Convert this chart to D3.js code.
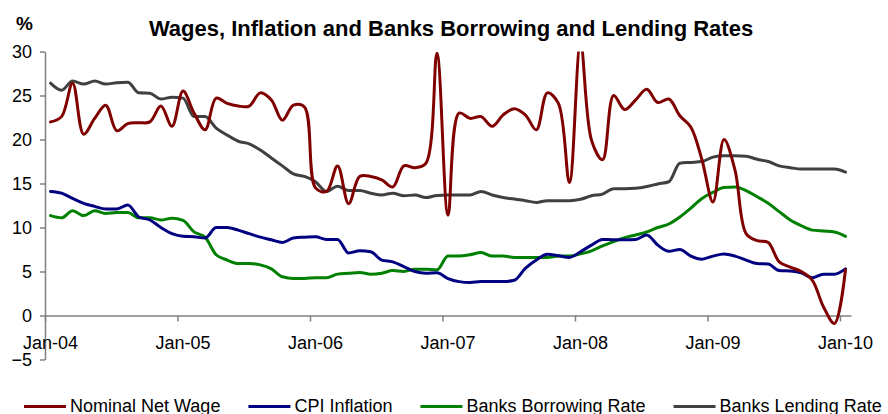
<!DOCTYPE html>
<html>
<head>
<meta charset="utf-8">
<script src="https://cdn.jsdelivr.net/npm/d3@7"></script>
<style>
  html, body { margin: 0; padding: 0; background: #fff; }
  svg { display: block; font-family: "Liberation Sans", Arial, sans-serif; }
</style>
</head>
<body>
<svg id="chart" width="888" height="414"></svg>
<script>
// Monthly series, Jan-2004 .. Jan-2010 (73 months), in percent
const months = d3.timeMonth.range(new Date(2004, 0, 1), new Date(2010, 1, 1));

const nominalNetWage = [
  22.0, 22.6, 26.4, 20.6, 22.4, 23.9, 21.0, 21.8, 21.9, 22.0, 23.8, 21.5,
  25.5, 23.0, 21.1, 24.7, 24.1, 23.8, 23.8, 25.3, 24.5, 22.2, 23.9, 23.7,
  14.5, 14.1, 17.0, 12.7, 15.8, 15.8, 15.4, 14.6, 17.0, 16.8, 17.3, 29.8,
  11.4, 23.0, 22.4, 22.6, 21.5, 22.8, 23.5, 22.8, 21.1, 25.3, 24.1, 15.1,
  31.0, 19.9, 17.7, 25.0, 23.4, 24.5, 25.7, 24.2, 24.6, 22.7, 21.4, 17.7,
  12.9, 20.0, 16.5, 9.3, 8.5, 8.3, 6.1, 5.5, 5.0, 4.0, 1.0, -0.9,
  5.2
];

const cpiInflation = [
  14.1, 13.9, 13.3, 12.75, 12.4, 12.1, 12.1, 12.55, 11.2, 10.85, 10.0, 9.3,
  9.0, 8.95, 8.8, 10.0, 10.0, 9.7, 9.3, 8.9, 8.6, 8.3, 8.8, 8.9,
  8.95, 8.65, 8.65, 7.1, 7.35, 7.25, 6.3, 6.1, 5.55, 5.0, 4.8, 4.85,
  4.2, 3.85, 3.75, 3.85, 3.85, 3.85, 4.0, 5.35, 6.3, 6.95, 6.8, 6.6,
  7.25, 8.0, 8.65, 8.6, 8.6, 8.65, 9.15, 8.0, 7.3, 7.5, 6.75, 6.4,
  6.75, 7.0, 6.75, 6.3, 5.9, 5.85, 5.1, 5.05, 4.85, 4.3, 4.7, 4.7,
  5.3
];

const banksBorrowingRate = [
  11.35, 11.1, 11.9, 11.35, 11.9, 11.6, 11.7, 11.7, 11.1, 11.1, 10.85, 11.05,
  10.8, 9.5, 8.9, 6.9, 6.3, 5.9, 5.9, 5.75, 5.3, 4.4, 4.2, 4.2,
  4.3, 4.3, 4.7, 4.8, 4.9, 4.7, 4.8, 5.1, 5.0, 5.25, 5.25, 5.2,
  6.75, 6.75, 6.9, 7.15, 6.75, 6.75, 6.6, 6.6, 6.6, 6.6, 6.75, 6.75,
  7.0, 7.35, 7.9, 8.4, 8.85, 9.15, 9.5, 10.0, 10.4, 11.2, 12.2, 13.3,
  14.0, 14.55, 14.6, 14.2, 13.5, 12.75, 11.8, 10.85, 10.2, 9.7, 9.6, 9.5,
  9.0
];

const banksLendingRate = [
  26.4, 25.6, 26.65, 26.3, 26.65, 26.3, 26.45, 26.5, 25.3, 25.25, 24.6, 24.8,
  24.7, 22.6, 22.6, 21.3, 20.5, 19.8, 19.5, 18.8, 17.9, 17.0, 16.1, 15.8,
  15.2, 14.1, 14.7, 14.2, 14.2, 13.9, 13.7, 13.9, 13.6, 13.7, 13.4, 13.65,
  13.7, 13.7, 13.7, 14.1, 13.7, 13.4, 13.25, 13.05, 12.85, 13.05, 13.05, 13.05,
  13.2, 13.6, 13.8, 14.4, 14.4, 14.45, 14.65, 14.95, 15.2, 17.3, 17.4, 17.5,
  18.0, 18.15, 18.15, 18.1, 17.75, 17.5, 17.0, 16.8, 16.65, 16.65, 16.65, 16.65,
  16.3
];

const yTicks = [-5, 0, 5, 10, 15, 20, 25, 30];
const formatMonth = d3.timeFormat("%b-%y");

const series = [
  { name: "Nominal Net Wage",     values: nominalNetWage,     color: "#800000", curve: d3.curveCatmullRom.alpha(0.5) },
  { name: "CPI Inflation",        values: cpiInflation,       color: "#000080", curve: d3.curveMonotoneX },
  { name: "Banks Borrowing Rate", values: banksBorrowingRate, color: "#008000", curve: d3.curveMonotoneX },
  { name: "Banks Lending Rate",   values: banksLendingRate,   color: "#404040", curve: d3.curveMonotoneX }
];

const svg = d3.select("#chart");
const plot = { left: 45, right: 851, top: 51.5, bottom: 359.5 };

// category axis: each month occupies one slot, points sit in the slot centre
const x = d3.scaleLinear().domain([0, months.length]).range([plot.left, plot.right]);
const y = d3.scaleLinear().domain([-5, 30]).range([plot.bottom, plot.top]);
const xc = i => x(i + 0.5);

svg.append("defs").append("clipPath").attr("id", "plotClip")
  .append("rect")
  .attr("x", plot.left).attr("y", plot.top)
  .attr("width", plot.right - plot.left + 10).attr("height", plot.bottom - plot.top);

// title and unit
svg.append("text")
  .attr("x", 451).attr("y", 36)
  .attr("text-anchor", "middle")
  .style("font-size", "22px").style("font-weight", "bold")
  .text("Wages, Inflation and Banks Borrowing and Lending Rates");

svg.append("text")
  .attr("x", 16).attr("y", 30)
  .style("font-size", "19px").style("font-weight", "bold")
  .text("%");

// y axis
const yAxis = svg.append("g")
  .attr("transform", `translate(${plot.left},0)`)
  .call(d3.axisLeft(y).tickValues(yTicks).tickSize(5).tickSizeOuter(0).tickPadding(8));
yAxis.selectAll("text").style("font-size", "18px").attr("fill", "#000");

// x axis on the zero line, ticks on yearly slot boundaries
const yearIdx = d3.range(0, months.length, 12);
svg.append("g")
  .attr("transform", `translate(0,${y(0)})`)
  .call(d3.axisBottom(x).tickValues(yearIdx).tickSize(6).tickSizeOuter(0).tickFormat(""));

svg.selectAll(".domain, .tick line")
  .attr("stroke", "#808080").attr("stroke-width", 1.5);

svg.append("g").selectAll("text")
  .data(yearIdx)
  .join("text")
  .attr("x", i => xc(i))
  .attr("y", 349)
  .attr("text-anchor", "middle")
  .style("font-size", "18px")
  .text(i => formatMonth(months[i]));

// series lines
const lines = svg.append("g").attr("clip-path", "url(#plotClip)");
series.slice().reverse().forEach(s => {
  const line = d3.line()
    .x((d, i) => xc(i))
    .y(d => y(d))
    .curve(s.curve);
  lines.append("path")
    .datum(s.values)
    .attr("fill", "none")
    .attr("stroke", s.color)
    .attr("stroke-width", 3)
    .attr("stroke-linejoin", "round")
    .attr("stroke-linecap", "round")
    .attr("d", line);
});

// legend along the bottom edge
const legend = svg.append("g").attr("transform", "translate(24,0)");
let lx = 0;
series.forEach(s => {
  const g = legend.append("g").attr("transform", `translate(${lx},0)`);
  g.append("line")
    .attr("x1", 0).attr("x2", 42)
    .attr("y1", 406.5).attr("y2", 406.5)
    .attr("stroke", s.color).attr("stroke-width", 3);
  const t = g.append("text")
    .attr("x", 46).attr("y", 411.5)
    .style("font-size", "18px")
    .text(s.name);
  lx += 46 + t.node().getComputedTextLength() + 28;
});
</script>
</body>
</html>
